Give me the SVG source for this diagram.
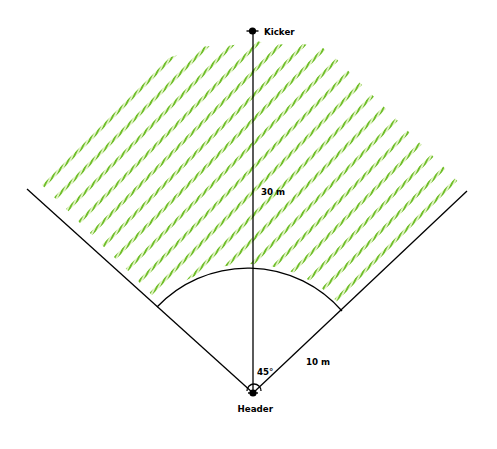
<svg xmlns="http://www.w3.org/2000/svg" width="497" height="449" viewBox="0 0 497 449">
<style>
.ln{stroke:#000;stroke-width:1.3;fill:none}
.lbl{font-family:"DejaVu Sans","Liberation Sans",sans-serif;font-weight:bold;font-size:8.7px;fill:#000}
.hb{stroke:#e2f3c4;stroke-width:3.2;fill:none}
.hd{stroke:url(#rope);stroke-width:3.2;fill:none}
</style>
<defs>
<pattern id="rope" patternUnits="userSpaceOnUse" width="3.6" height="10" patternTransform="rotate(25)">
<rect x="0" y="0" width="1.7" height="10" fill="#68bb22"/>
</pattern>
<clipPath id="zone">
<path d="M41.5,184.5 L168,58 L204,46.5 L230,45.5 L258,41.5 L277,44.5 L303,44 L323,48 L337,59.5 L456,179.5 L466,190 L342,307 A125,125 0 0 0 157,303 L150,293 Z"/>
</clipPath>
<g id="stripe">
<line x1="-420" y1="420" x2="0" y2="0" class="hb"/>
<line x1="-420" y1="420" x2="0" y2="0" class="hd"/>
</g>
</defs>
<rect width="497" height="449" fill="#fff"/>
<g id="hatch" clip-path="url(#zone)">
<use href="#stripe" x="229.5" y="0"/>
<use href="#stripe" x="253.4" y="0"/>
<use href="#stripe" x="277.3" y="0"/>
<use href="#stripe" x="301.2" y="0"/>
<use href="#stripe" x="325.1" y="0"/>
<use href="#stripe" x="349" y="0"/>
<use href="#stripe" x="372.9" y="0"/>
<use href="#stripe" x="396.8" y="0"/>
<use href="#stripe" x="420.7" y="0"/>
<use href="#stripe" x="444.6" y="0"/>
<use href="#stripe" x="468.5" y="0"/>
<use href="#stripe" x="492.4" y="0"/>
<use href="#stripe" x="516.3" y="0"/>
<use href="#stripe" x="540.2" y="0"/>
<use href="#stripe" x="564.1" y="0"/>
<use href="#stripe" x="588" y="0"/>
<use href="#stripe" x="611.9" y="0"/>
<use href="#stripe" x="635.8" y="0"/>
</g>
<g id="connectors">
<line class="ln" x1="253" y1="31" x2="253" y2="393"/>
<line class="ln" x1="27" y1="189" x2="253" y2="393"/>
<line class="ln" x1="253" y1="393" x2="467" y2="191"/>
<path class="ln" d="M157,307 A125,125 0 0 1 342,311"/>
<path class="ln" d="M247,391 A7,7 0 0 1 261,391"/>
</g>
<g id="kicker">
<circle cx="252.5" cy="31" r="3.6" fill="#000"/>
<line x1="246.5" y1="31" x2="258.5" y2="31" stroke="#000" stroke-width="1.4"/>
<text class="lbl" x="264" y="34.5">Kicker</text>
</g>
<g id="header">
<circle cx="253" cy="393" r="3.6" fill="#000"/>
<line x1="248" y1="393" x2="258" y2="393" stroke="#000" stroke-width="1.4"/>
<text class="lbl" x="237.5" y="411.5">Header</text>
</g>
<g id="labels">
<text class="lbl" x="261" y="195">30 m</text>
<text class="lbl" x="257" y="375">45°</text>
<text class="lbl" x="306" y="365">10 m</text>
</g>
</svg>
